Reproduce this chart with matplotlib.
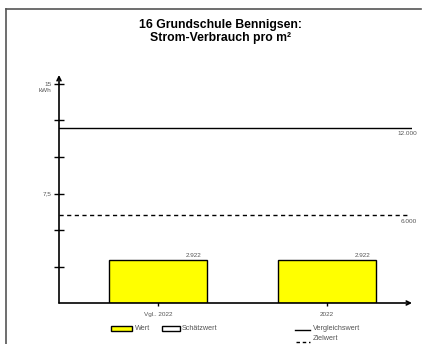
import matplotlib
matplotlib.use("Agg")
import matplotlib.pyplot as plt
from matplotlib.patches import Rectangle
from matplotlib.lines import Line2D

plt.rcParams['font.family'] = ['Liberation Sans', 'DejaVu Sans']

categories = ["Vgl.. 2022", "2022"]
values = [2.922, 2.922]
value_labels = ["2.922", "2.922"]
vergleichswert = 12.0
zielwert = 6.0
ref_labels = ["12.000", "6.000"]
yticks = [2.5, 5, 7.5, 10, 12.5, 15]
ytick_labels = {7.5: "7,5", 15: "15"}
unit = "kWh"
title = "16 Grundschule Bennigsen:\nStrom-Verbrauch pro m²"
legend_left = ["Wert", "Schätzwert"]
legend_right = ["Vergleichswert", "Zielwert"]

W, H = 422, 344
fig = plt.figure(figsize=(W / 100, H / 100), dpi=100)

def fx(px):
    return px / W

def fy(py):
    return 1 - py / H

GREY = '#555555'
SMALL = 4.6

# outer frame (left and top)
fig.add_artist(Line2D([fx(6), fx(6)], [fy(9), fy(344)], color=GREY, lw=1.2, transform=fig.transFigure))
fig.add_artist(Line2D([fx(6), fx(421)], [fy(9), fy(9)], color=GREY, lw=1.2, transform=fig.transFigure))

fig.text(fx(220), fy(31.5), title, ha='center', va='center', fontsize=8.8,
         fontweight='bold', linespacing=1.05)

ax_l, ax_r, ax_t, ax_b = 59, 412, 75, 303
ax = fig.add_axes([fx(ax_l), fy(ax_b), fx(ax_r - ax_l), (ax_b - ax_t) / H])
ppu = (303 - 84) / 15.0
ax.set_ylim(0, (ax_b - ax_t) / ppu)
x0, x1 = 158, 327
xs = (x1 - x0)
ax.set_xlim((ax_l - x0) / xs, (ax_r - x0) / xs)
for s in ax.spines.values():
    s.set_visible(False)
ax.patch.set_alpha(0)

xpos = list(range(len(categories)))
bw = 98 / xs
ax.bar(xpos, values, width=bw, color='#ffff00', edgecolor='black', linewidth=1.0, zorder=3)
for x, v, lab in zip(xpos, values, value_labels):
    ax.text(x + bw / 2 - 0.03, v + 0.15, lab, ha='right', va='bottom', fontsize=SMALL, color=GREY)

xmin, xmax = ax.get_xlim()
ax.plot([xmin, xmax], [vergleichswert, vergleichswert], color='black', lw=1.0, zorder=2)
ax.plot([xmin, xmax - 0.01], [zielwert, zielwert], color='black', lw=1.0, ls=(0, (3, 2.5)), zorder=2)
ax.text(xmax + 0.03, vergleichswert - 0.25, ref_labels[0], ha='right', va='top', fontsize=SMALL, color=GREY)
ax.text(xmax + 0.03, zielwert - 0.25, ref_labels[1], ha='right', va='top', fontsize=SMALL, color=GREY)

# axes arrows
ax.annotate('', xy=(xmin, ax.get_ylim()[1]), xytext=(xmin, 0),
            arrowprops=dict(arrowstyle='->', lw=1.2, color='black', shrinkA=0, shrinkB=0,
                            mutation_scale=7))
ax.annotate('', xy=(xmax, 0), xytext=(xmin, 0),
            arrowprops=dict(arrowstyle='->', lw=1.2, color='black', shrinkA=0, shrinkB=0,
                            mutation_scale=7))

# y ticks (drawn as markers crossing the axis) and labels
ax.set_yticks([])
ax.plot([xmin] * len(yticks), yticks, ls='none', marker='_', markersize=7,
        markeredgewidth=1.0, color='black', clip_on=False, zorder=4)
for t in yticks:
    if t in ytick_labels:
        ax.text(xmin - 0.045, t, ytick_labels[t], ha='right', va='center', fontsize=SMALL, color=GREY)
ax.text(xmin - 0.045, 15 - 0.3, unit, ha='right', va='top', fontsize=SMALL, color=GREY)

ax.set_xticks(xpos)
ax.set_xticklabels(categories)
ax.tick_params(axis='x', direction='inout', length=5, width=1.0, labelsize=SMALL,
               labelcolor=GREY, pad=4)

# legend
LF = 5.2
ly1, ly2 = 328.5, 340.5
fig.add_artist(Rectangle((fx(111), fy(ly1 + 2.5)), fx(21), 5 / H, facecolor='#ffff00',
                         edgecolor='black', lw=1.0, transform=fig.transFigure))
fig.text(fx(135), fy(ly1), legend_left[0], ha='left', va='center', fontsize=LF, color=GREY)
fig.add_artist(Rectangle((fx(162), fy(ly1 + 2.5)), fx(18), 5 / H, facecolor='white',
                         edgecolor='black', lw=1.0, transform=fig.transFigure))
fig.text(fx(182), fy(ly1), legend_left[1], ha='left', va='center', fontsize=LF, color=GREY)
fig.add_artist(Line2D([fx(295), fx(310)], [fy(ly1 + 1), fy(ly1 + 1)], color='black', lw=1.0, transform=fig.transFigure))
fig.text(fx(313), fy(ly1), legend_right[0], ha='left', va='center', fontsize=LF, color=GREY)
fig.add_artist(Line2D([fx(296), fx(310)], [fy(ly2 + 1), fy(ly2 + 1)], color='black', lw=1.0,
                      ls=(0, (2.5, 2)), transform=fig.transFigure))
fig.text(fx(313), fy(ly2 - 2), legend_right[1], ha='left', va='center', fontsize=LF, color=GREY)

fig.savefig('out.png', dpi=100)
